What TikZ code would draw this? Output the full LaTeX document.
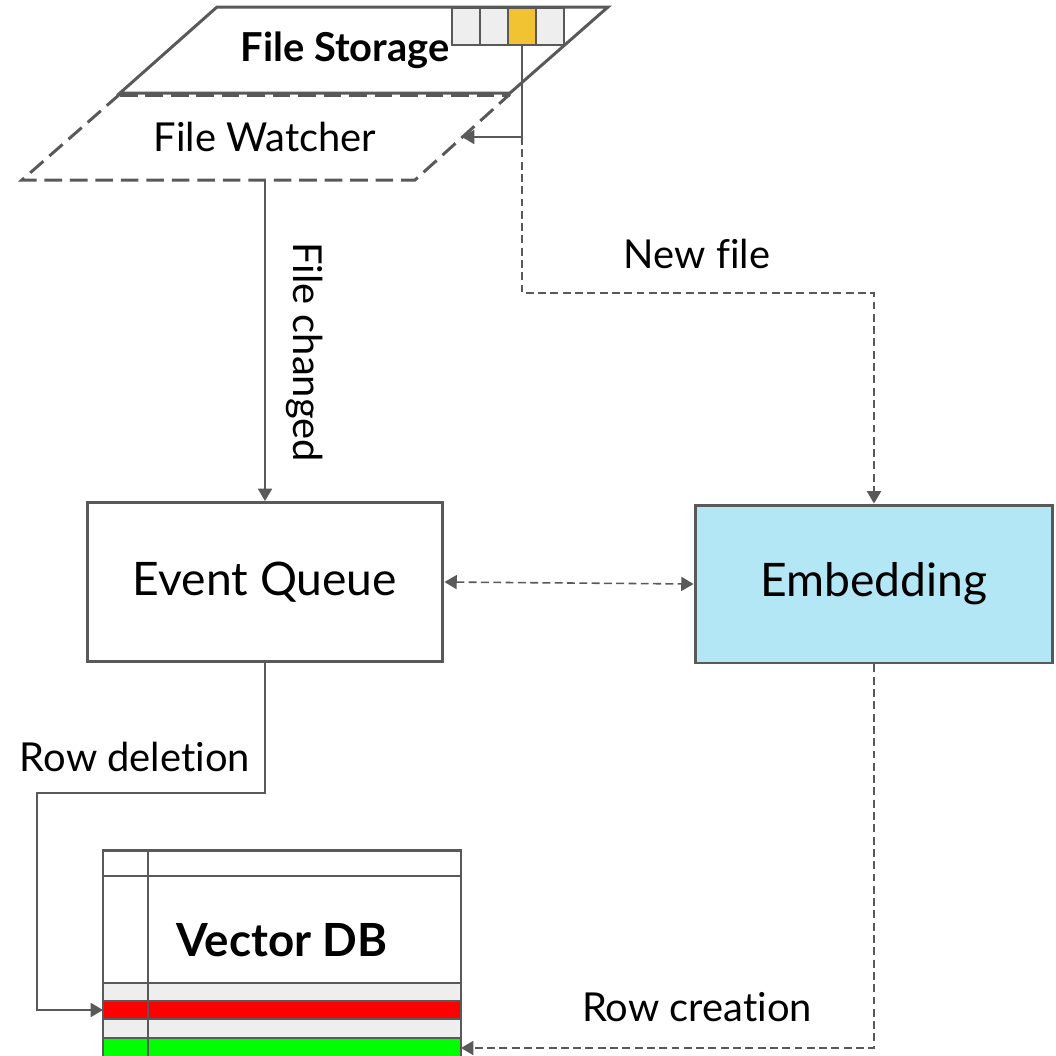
\documentclass[tikz,border=0pt]{standalone}
\usepackage{fontspec}
\setmainfont{Lato}[Ligatures=CommonOff]
\usetikzlibrary{arrows.meta, positioning}
\definecolor{linegray}{HTML}{595959}
\definecolor{cellgray}{HTML}{EEEEEE}
\definecolor{cellyellow}{HTML}{F1C232}
\definecolor{embedblue}{HTML}{B3E7F5}
\definecolor{rowred}{HTML}{FF0000}
\definecolor{rowgreen}{HTML}{00FF00}
\tikzset{
  conn/.style={draw=linegray, line width=0.9pt},
  dashconn/.style={conn, dash pattern=on 4.5pt off 2.5pt},
  tip/.style={-{Triangle[length=7pt, width=8pt]}},
  twotip/.style={{Triangle[length=7pt, width=8pt]}-{Triangle[length=7pt, width=8pt]}},
  box/.style={draw=linegray, line width=1.7pt, font=\fontsize{26.3}{30}\selectfont},
  lbl/.style={font=\fontsize{22.7}{27}\selectfont}
}

\begin{document}
\begin{tikzpicture}[x=0.02cm, y=-0.02cm]
\useasboundingbox (0,0) rectangle (1056,1056);

% file storage and watcher
\draw[draw=linegray, line width=1.7pt, dash pattern=on 10pt off 4.5pt]
  (120,94) -- (22,180) -- (415,180) -- (510,94);
\draw[draw=linegray, line width=1.7pt, fill=white]
  (217,7) -- (608,7) -- (510,93) -- (120,93) -- cycle;
\draw[draw=linegray, line width=1.7pt, dash pattern=on 10pt off 4.5pt]
  (120,95) -- (510,95);
\foreach \i/\c in {0/cellgray,1/cellgray,2/cellyellow,3/cellgray}
  \draw[draw=linegray, line width=0.8pt, fill=\c] (452+28*\i,8) rectangle +(28,37);
\node[font=\fontsize{22.7}{27}\selectfont\bfseries] (fs) at (345,50) {File Storage};
\node[lbl] (fw) at (265,137) {File Watcher};
\coordinate (fwout) at (265,180);
\coordinate (cellout) at (522,45);
\coordinate (fork) at (522,137);
\coordinate (fwin) at (462,137);
\coordinate (newturn) at (522,293);

% boxes
\node[box, minimum width=7.12cm, minimum height=3.18cm] (eq) at (265,582) {Event Queue};
\node[box, fill=embedblue, minimum width=7.16cm, minimum height=3.16cm] (emb) at (874,584) {Embedding};

% vector db
\fill[white] (103,850) rectangle (461,1060);
\fill[cellgray] (103,983) rectangle (461,1001);
\fill[rowred] (103,1001) rectangle (461,1019);
\fill[cellgray] (103,1019) rectangle (461,1038);
\fill[rowgreen] (103,1038) rectangle (461,1060);
\foreach \y in {876,983,1001,1019,1038}
  \draw[draw=linegray, line width=1.2pt] (103,\y) -- (461,\y);
\draw[draw=linegray, line width=1.2pt] (148,850) -- (148,1060);
\draw[draw=linegray, line width=1.7pt] (103,1060) -- (103,850) -- (461,850) -- (461,1060);
\node[font=\fontsize{26}{30}\selectfont\bfseries] (vdb) at (282,940) {Vector DB};
\coordinate (redrow) at (103,1010);
\coordinate (greenrow) at (461,1048);
\coordinate (delturn) at (37,793);

% connectors
\draw[conn, tip] (cellout) -- (fork) -- (fwin);
\draw[dashconn, tip] (fork) -- (newturn) -| (emb.north);
\draw[conn, tip] (fwout) -- (eq.north);
\draw[dashconn, twotip] (eq.east) -- (emb.west);
\draw[conn, tip] (eq.south) |- (delturn) |- (redrow);
\draw[dashconn, tip] (emb.south) |- (greenrow);

% labels
\node[lbl, rotate=-90] (changed) at (305,352) {File changed};
\node[lbl] (newfile) at (697,254) {New file};
\node[lbl] (deletion) at (135,757) {Row deletion};
\node[lbl] (creation) at (697,1007) {Row creation};
\end{tikzpicture}
\end{document}
